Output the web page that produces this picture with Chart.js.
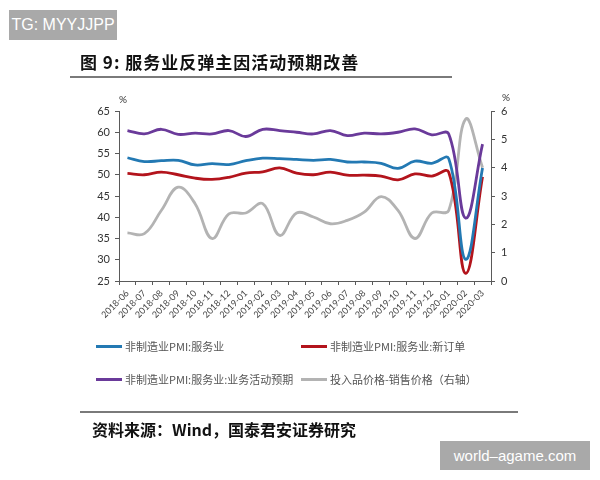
<!DOCTYPE html>
<html>
<head>
<meta charset="utf-8">
<script src="https://cdn.jsdelivr.net/npm/chart.js@4.4.1/dist/chart.umd.min.js"></script>
<style>
  html, body { margin: 0; padding: 0; background: #fff; }
  body { width: 600px; height: 480px; position: relative; overflow: hidden; font-family: "Noto Sans CJK SC", sans-serif; }
  #chart { position: absolute; left: 0; top: 0; }
  .abs { position: absolute; white-space: nowrap; }
  .wm { position: absolute; background: #a9a9a9; color: #fff; white-space: nowrap; font-family: "Liberation Sans", Arial, sans-serif; display: flex; align-items: center; justify-content: center; }
  .rule { position: absolute; background: #7a7a7a; height: 2px; }
  .lg { position: absolute; font-size: 11px; color: #555; display: flex; align-items: center; white-space: nowrap; }
  .lg i { display: inline-block; width: 26px; height: 3px; margin-right: 3px; }
</style>
</head>
<body>
<canvas id="chart" width="600" height="480"></canvas>

<div class="wm" style="left:9px;top:10px;width:108px;height:30px;font-size:16px;">TG: MYYJJPP</div>
<div class="abs" style="left:80px;top:49px;font-size:17px;font-weight:bold;letter-spacing:1px;color:#111;">图 9:&nbsp;服务业反弹主因活动预期改善</div>
<div class="rule" style="left:70px;top:76px;width:382px;"></div>
<div class="abs" style="left:119px;top:93px;font-size:10px;color:#333;font-family:Lato,sans-serif;">%</div>
<div class="abs" style="left:502px;top:91px;font-size:10px;color:#333;font-family:Lato,sans-serif;">%</div>
<div id="legend"></div>
<div class="rule" style="left:80px;top:411px;width:438px;"></div>
<div class="abs" style="left:92px;top:417px;font-size:16px;font-weight:bold;color:#111;">资料来源：Wind，国泰君安证券研究</div>
<div class="wm" style="left:440px;top:441px;width:150px;height:29px;font-size:15px;">world–agame.com</div>

<script>
"use strict";

// categories and series
var months = ["2018-06", "2018-07", "2018-08", "2018-09", "2018-10", "2018-11", "2018-12",
    "2019-01", "2019-02", "2019-03", "2019-04", "2019-05", "2019-06", "2019-07", "2019-08",
    "2019-09", "2019-10", "2019-11", "2019-12", "2020-01", "2020-02", "2020-03"];
var servicesPmi = [54.0, 53.1, 53.3, 53.4, 52.3, 52.6, 52.4, 53.3, 53.9, 53.8, 53.6, 53.4,
    53.6, 53.0, 53.0, 52.7, 51.5, 53.2, 52.7, 53.8, 30.1, 51.6];
var newOrders = [50.3, 50.0, 50.6, 50.0, 49.2, 48.9, 49.4, 50.4, 50.7, 51.6, 50.4, 50.0,
    50.6, 49.9, 49.9, 49.7, 48.8, 50.2, 49.7, 50.6, 26.8, 49.5];
var expectation = [60.4, 59.6, 60.7, 59.5, 59.8, 59.6, 60.4, 59.0, 60.7, 60.4, 60.0, 59.6,
    60.4, 59.2, 59.8, 59.6, 60.0, 60.8, 59.4, 59.6, 39.8, 57.2];
var priceGap = [1.7, 1.67, 2.49, 3.31, 2.73, 1.5, 2.37, 2.4, 2.73, 1.61, 2.4, 2.26,
    2.02, 2.14, 2.43, 2.98, 2.49, 1.5, 2.4, 2.49, 5.71, 4.0];
var leftTicks = [25, 65, 5];
var rightTicks = [0, 6, 1];

var seriesNames = ["非制造业PMI:服务业", "非制造业PMI:服务业:新订单",
    "非制造业PMI:服务业:业务活动预期", "投入品价格-销售价格（右轴）"];
var seriesColors = ["#2379b3", "#b3141c", "#6a3a9a", "#b3b3b3"];

var axisColor = "#5a5a5a";
var tickFont = { family: "Lato, sans-serif", size: 11 };

function line(i, values, axis) {
    return {
        label: seriesNames[i],
        data: values,
        yAxisID: axis,
        borderColor: seriesColors[i],
        backgroundColor: seriesColors[i],
        borderWidth: 2.8,
        pointRadius: 0,
        tension: 0.4,
        fill: false
    };
}

var chart = new Chart(document.getElementById("chart"), {
    type: 'line',
    data: {
        labels: months,
        datasets: [
            line(0, servicesPmi, 'y'),
            line(1, newOrders, 'y'),
            line(2, expectation, 'y'),
            line(3, priceGap, 'y1')
        ]
    },
    options: {
        responsive: false,
        animation: false,
        layout: { padding: { top: 111, left: 0, right: 0, bottom: 0 } },
        plugins: { legend: { display: false }, tooltip: { enabled: false } },
        scales: {
            x: {
                type: 'category',
                offset: true,
                grid: { display: true, drawOnChartArea: false, offset: true, tickLength: 4, color: axisColor },
                border: { color: axisColor, width: 1 },
                ticks: {
                    autoSkip: false, minRotation: 45, maxRotation: 45, padding: 3,
                    color: "#444", font: { family: "Lato, sans-serif", size: 9 }
                },
                afterFit: function (s) { s.height = 199; }
            },
            y: {
                position: 'left',
                min: leftTicks[0], max: leftTicks[1],
                grid: { drawOnChartArea: false, tickLength: 4, color: axisColor },
                border: { color: axisColor, width: 1 },
                ticks: { stepSize: leftTicks[2], padding: 5, color: "#333", font: tickFont },
                afterFit: function (s) { s.width = 119; }
            },
            y1: {
                position: 'right',
                min: rightTicks[0], max: rightTicks[1],
                grid: { drawOnChartArea: false, tickLength: 4, color: axisColor },
                border: { color: axisColor, width: 1 },
                ticks: { stepSize: rightTicks[2], padding: 6, color: "#333", font: tickFont },
                afterFit: function (s) { s.width = 109; }
            }
        }
    }
});

// legend in two columns, as in the original report
var legendPos = [[96, 338], [301, 338], [96, 371], [301, 371]];
var legendHtml = "";
chart.data.datasets.forEach(function (ds, i) {
    legendHtml += '<div class="lg" style="left:' + legendPos[i][0] + 'px;top:' + legendPos[i][1] + 'px;">' +
        '<i style="background:' + ds.borderColor + '"></i>' + ds.label + '</div>';
});
document.getElementById("legend").innerHTML = legendHtml;
</script>
</body>
</html>
